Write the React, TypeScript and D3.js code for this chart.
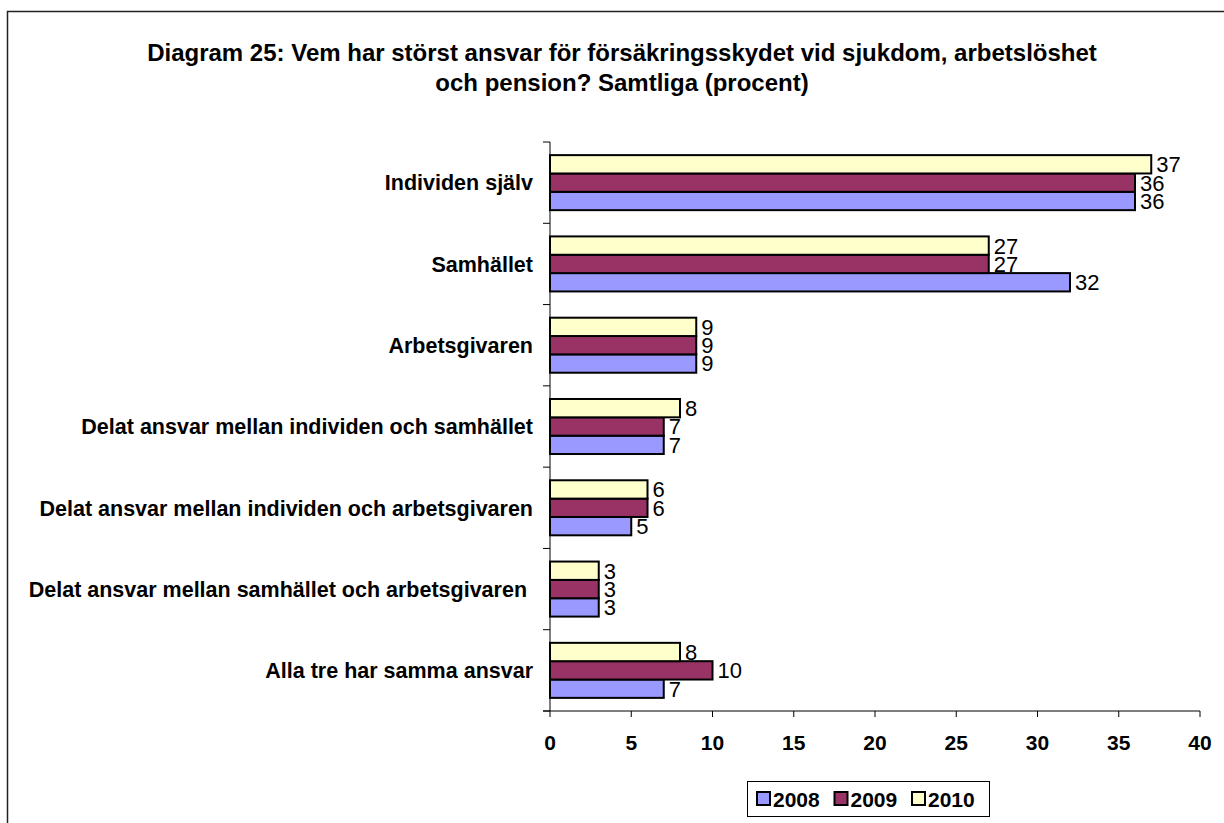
import React from "react";
import * as d3 from "d3";

const categories = [
  "Individen själv",
  "Samhället",
  "Arbetsgivaren",
  "Delat ansvar mellan individen och samhället",
  "Delat ansvar mellan individen och arbetsgivaren",
  "Delat ansvar mellan samhället och arbetsgivaren ",
  "Alla tre har samma ansvar",
];
const series = ["2008", "2009", "2010"];
const values2008 = [36, 32, 9, 7, 5, 3, 7];
const values2009 = [36, 27, 9, 7, 6, 3, 10];
const values2010 = [37, 27, 9, 8, 6, 3, 8];
const xTicks = [0, 5, 10, 15, 20, 25, 30, 35, 40];
const titleLines = [
  "Diagram 25: Vem har störst ansvar för försäkringsskydet vid sjukdom, arbetslöshet",
  "och pension? Samtliga (procent)",
];
const colors: Record<string, string> = { "2008": "#9999FF", "2009": "#993366", "2010": "#FFFFCC" };
const seriesValues: Record<string, number[]> = { "2008": values2008, "2009": values2009, "2010": values2010 };

export default function App() {
  const W = 1224, H = 823;
  const font = "Arial, 'Liberation Sans', Helvetica, sans-serif";
  const x = d3.scaleLinear().domain([0, 40]).range([550, 1200]);
  const p = 0.323;
  const y = d3.scaleBand<string>().domain(categories).range([142, 711]).paddingInner(p).paddingOuter(p / 2);
  const inner = d3.scaleBand<string>().domain(["2010", "2009", "2008"]).range([0, y.bandwidth()]);
  const step = y.step();
  const boundaries = d3.range(categories.length + 1).map((i) => 142 + i * step);

  return (
    <svg width={W} height={H} style={{ position: "absolute", left: 0, top: 0, background: "#fff" }} fontFamily={font}>
      <rect x={7.5} y={11.5} width={W + 20} height={H + 20} fill="#fff" stroke="#222" strokeWidth={1.5} />
      {titleLines.map((t, i) => (
        <text key={i} x={622} y={61 + i * 30} textAnchor="middle" fontWeight="bold" fontSize={24}>
          {t}
        </text>
      ))}
      {/* bars */}
      {categories.map((c, ci) => (
        <g key={c}>
          {series.map((s) => {
            const v = seriesValues[s][ci];
            const by = (y(c) as number) + (inner(s) as number);
            const bh = inner.bandwidth();
            return (
              <g key={s}>
                <rect x={x(0)} y={by} width={x(v) - x(0)} height={bh} fill={colors[s]} stroke="#000" strokeWidth={2} />
                <text x={x(v) + 5} y={by + bh / 2} dy="0.36em" fontSize={22}>
                  {v}
                </text>
              </g>
            );
          })}
          <text
            x={533}
            y={(y(c) as number) + y.bandwidth() / 2}
            dy="0.36em"
            textAnchor="end"
            fontWeight="bold"
            fontSize={21.5}
            style={{ whiteSpace: "pre" }}
          >
            {c}
          </text>
        </g>
      ))}
      {/* y axis */}
      <line x1={550} x2={550} y1={142} y2={711} stroke="#000" strokeWidth={1} />
      {boundaries.map((b, i) => (
        <line key={i} x1={543} x2={550} y1={b} y2={b} stroke="#000" strokeWidth={1} />
      ))}
      {/* x axis */}
      <line x1={543} x2={x(40)} y1={711} y2={711} stroke="#000" strokeWidth={1} />
      {xTicks.map((t) => (
        <g key={t}>
          <line x1={x(t)} x2={x(t)} y1={711} y2={717} stroke="#000" strokeWidth={1} />
          <text x={x(t)} y={750} textAnchor="middle" fontWeight="bold" fontSize={21}>
            {t}
          </text>
        </g>
      ))}
      {/* legend */}
      <rect x={747.5} y={781.5} width={242} height={35} fill="#fff" stroke="#000" strokeWidth={1} />
      {series.map((s, i) => {
        const lx = 757 + i * 77.5;
        return (
          <g key={s}>
            <rect x={lx} y={792} width={13} height={13} fill={colors[s]} stroke="#000" strokeWidth={2} />
            <text x={lx + 16} y={806.5} fontWeight="bold" fontSize={21}>
              {s}
            </text>
          </g>
        );
      })}
    </svg>
  );
}
